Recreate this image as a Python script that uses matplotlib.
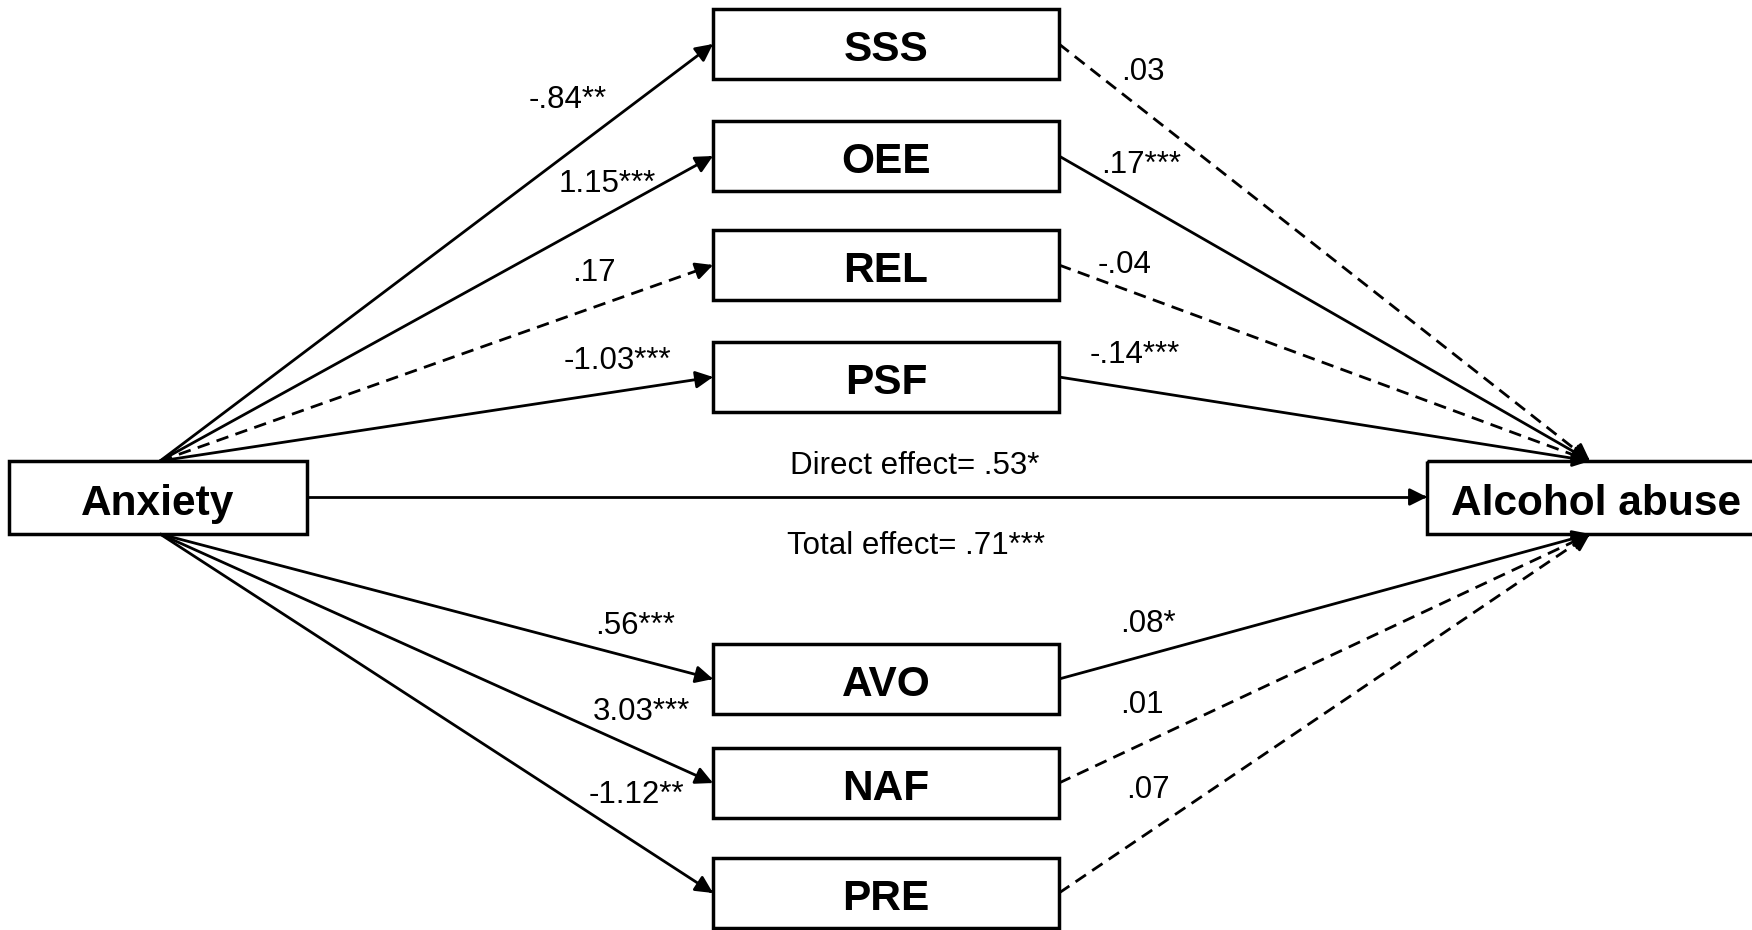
import matplotlib
matplotlib.use('Agg')
import matplotlib.pyplot as plt
import numpy as np

plt.rcParams['font.family'] = ['Liberation Sans', 'DejaVu Sans']

# 数据：中介变量、路径系数、是否显著（实线/虚线）
mediators = ['SSS', 'OEE', 'REL', 'PSF', 'AVO', 'NAF', 'PRE']
a_paths = ['-.84**', '1.15***', '.17', '-1.03***', '.56***', '3.03***', '-1.12**']
b_paths = ['.03', '.17***', '-.04', '-.14***', '.08*', '.01', '.07']
a_solid = [True, True, False, True, True, True, True]
b_solid = [False, True, False, True, True, False, False]
x_name = 'Anxiety'
y_name = 'Alcohol abuse'
direct_label = 'Direct effect= .53*'
total_label = 'Total effect= .71***'

# 版面（像素坐标）
med_y = [44, 156, 265, 377, 679, 783, 893]
med_x0, med_x1, box_h = 713, 1059, 70
a_lab_xy = [(568, 100), (607, 184), (594, 273), (617, 361), (635, 626), (641, 712), (636, 795)]
b_lab_xy = [(1143, 72), (1141, 165), (1125, 265), (1135, 355), (1148, 624), (1142, 705), (1148, 790)]

fig = plt.figure(figsize=(17.52, 9.30), dpi=100)
ax = fig.add_axes([0, 0, 1, 1])
ax.set_xlim(0, 1752)
ax.set_ylim(930, 0)
ax.axis('off')

LW = 2.0
BOX_LW = 2.5
DASH = (0, (4.5, 2.7))


def box(x0, y0, x1, y1, text, dx=0):
    ax.add_patch(plt.Rectangle((x0, y0), x1 - x0, y1 - y0, fill=False,
                               lw=BOX_LW, ec='black', zorder=3))
    ax.text((x0 + x1) / 2 + dx, (y0 + y1) / 2 + 6, text, ha='center', va='center',
            fontsize=30.5, fontweight='bold', zorder=4)


def arrow(p0, p1, solid=True):
    p0 = np.array(p0, float)
    p1 = np.array(p1, float)
    d = (p1 - p0) / np.hypot(*(p1 - p0))
    ax.plot([p0[0], p1[0] - d[0] * 6], [p0[1], p1[1] - d[1] * 6], color='black',
            lw=LW, linestyle='-' if solid else DASH, solid_capstyle='butt',
            dash_capstyle='butt', zorder=2)
    ax.annotate('', xy=tuple(p1), xytext=tuple(p1 - d * 4),
                arrowprops=dict(arrowstyle='-|>', mutation_scale=26, lw=LW,
                                color='black', shrinkA=0, shrinkB=0), zorder=2)


# 自变量与因变量方框
box(9, 461, 307, 534, x_name)
box(1427, 461, 1760, 534, y_name, dx=3)

# 中介变量
for i, name in enumerate(mediators):
    cy = med_y[i]
    box(med_x0, cy - box_h / 2, med_x1, cy + box_h / 2, name)
    if cy < 461:
        start, end = (160, 461), (1590, 461)
    else:
        start, end = (160, 534), (1590, 534)
    arrow(start, (med_x0, cy), a_solid[i])
    arrow((med_x1, cy), end, b_solid[i])
    ax.text(*a_lab_xy[i], a_paths[i], ha='center', va='center', fontsize=22.5)
    ax.text(*b_lab_xy[i], b_paths[i], ha='center', va='center', fontsize=22.5)

# 直接效应
arrow((307, 497), (1427, 497), True)
ax.text(915, 466, direct_label, ha='center', va='center', fontsize=22.5)
ax.text(916, 546, total_label, ha='center', va='center', fontsize=22.5)

plt.savefig('out.png', dpi=100)
